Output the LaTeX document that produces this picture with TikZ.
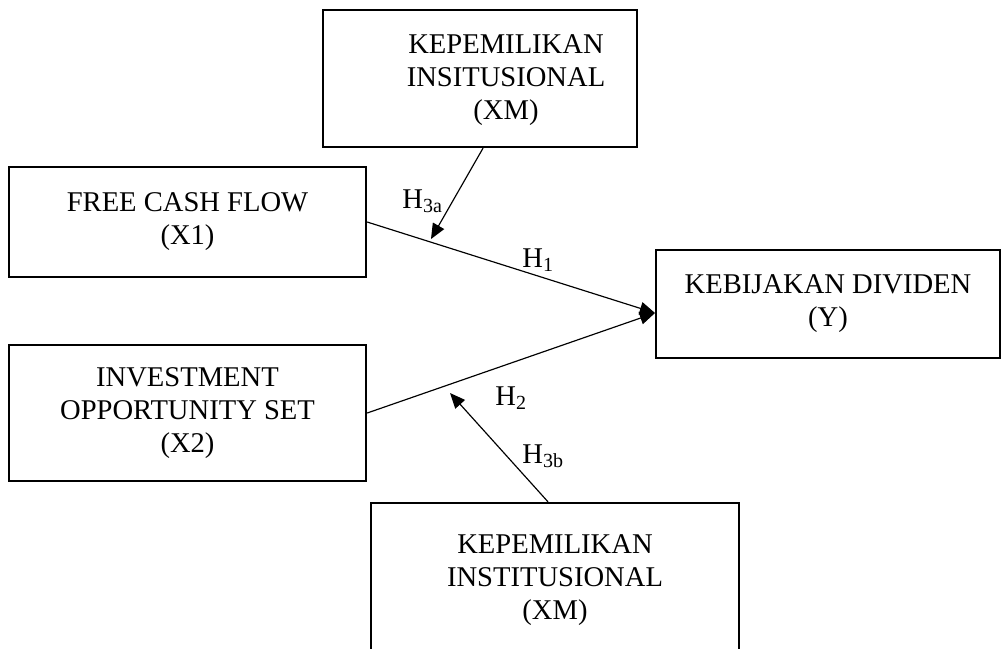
\documentclass[tikz,border=0pt]{standalone}
\usepackage{fontspec}
\setmainfont{Liberation Serif}
\usetikzlibrary{arrows.meta,calc}
\begin{document}
\begin{tikzpicture}[x=0.015cm,y=-0.015cm,
    varbox/.style={draw, line width=1pt, align=center, inner sep=0pt, font=\fontsize{12.2}{14.1}\selectfont},
    hyp/.style={inner sep=0pt, anchor=base west, font=\fontsize{12.2}{14.1}\selectfont},
    link/.style={line width=0.5pt, -{Triangle[length=6.5pt,width=5.5pt]}}]
    \useasboundingbox (0,0) rectangle (1003,648);

    \node[varbox, minimum width=4.71cm, minimum height=2.055cm] (xm1) at (480,78.5) {};
    \node[align=center, inner sep=0pt, font=\fontsize{12.2}{14.1}\selectfont] (xm1text) at (506,80) {KEPEMILIKAN\\INSITUSIONAL\\(XM)};
    \node[varbox, minimum width=5.355cm, minimum height=1.65cm] (fcf) at (187.5,222) {FREE CASH FLOW\\(X1)};
    \node[varbox, minimum width=5.355cm, minimum height=2.04cm] (ios) at (187.5,413) {INVESTMENT\\OPPORTUNITY SET\\(X2)};
    \node[varbox, minimum width=5.16cm, minimum height=1.62cm] (kd) at (828,304) {KEBIJAKAN DIVIDEN\\(Y)};
    \node[varbox, minimum width=5.52cm, minimum height=2.31cm] (xm2) at (555,580) {KEPEMILIKAN\\INSTITUSIONAL\\(XM)};

    \coordinate (meet) at (655,313);
    \coordinate (h3a tip) at (431,239);
    \coordinate (h3b tip) at (450,393);

    \draw[link] (fcf.east) -- (meet);
    \draw[link] (ios.east) -- (meet);
    \draw[link] ($(xm1.south)+(3,0)$) -- (h3a tip);
    \draw[link] ($(xm2.north)+(-7,0)$) -- (h3b tip);

    \node[hyp] (h3a) at (402,208) {H\textsubscript{3a}};
    \node[hyp] (h1) at (522,267) {H\textsubscript{1}};
    \node[hyp] (h2) at (495,405) {H\textsubscript{2}};
    \node[hyp] (h3b) at (522,463) {H\textsubscript{3b}};
\end{tikzpicture}
\end{document}
